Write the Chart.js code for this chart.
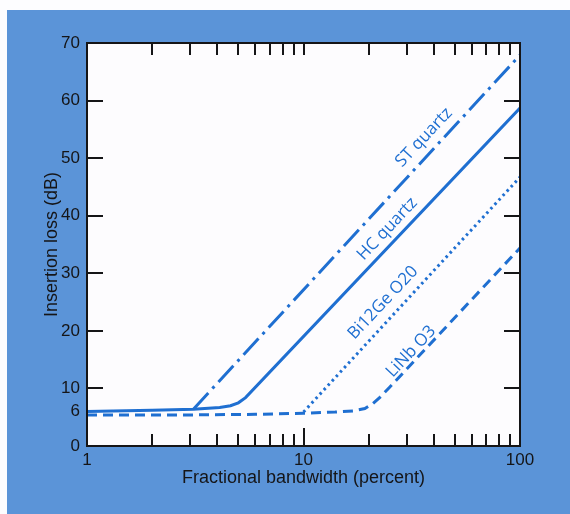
<!DOCTYPE html>
<html>
<head>
<meta charset="utf-8">
<script src="https://cdn.jsdelivr.net/npm/chart.js@4"></script>
<style>
  html, body { margin: 0; padding: 0; background: #fff; }
  canvas { display: block; }
</style>
</head>
<body>
<canvas id="lossChart" width="570" height="514"></canvas>
<script>
// curves: bandwidth (%) vs insertion loss (dB)
const stX = [3.1, 100];
const stY = [6.4, 67.9];
const hcX = [1, 2, 3.1, 4.1, 4.6, 5.0, 5.4, 100];
const hcY = [6.0, 6.2, 6.4, 6.7, 7.0, 7.5, 8.4, 58.7];
const bgoX = [10, 100];
const bgoY = [5.9, 46.7];
const lnX = [1, 3, 6, 10, 14, 17, 19.2, 20.8, 22.6, 25, 100];
const lnY = [5.4, 5.4, 5.5, 5.7, 5.9, 6.1, 6.5, 7.3, 8.5, 10.2, 34.4];

const xTickValues = [1, 10, 100];
const xMinorTicks = [2, 3, 4, 5, 6, 7, 8, 9, 20, 30, 40, 50, 60, 70, 80, 90];
const yTickValues = [0, 6, 10, 20, 30, 40, 50, 60, 70];
const yTickMarks = [10, 20, 30, 40, 50, 60];

const curveLabels = ['ST quartz', 'HC quartz', 'Bi12Ge O20', 'LiNb O3'];
const labelAtX = [36.0, 24.4, 23.3, 31.4];
const labelAtY = [53.6, 37.7, 24.9, 16.4];
const slopeDbPerDecade = 40;

const blue = '#1f6fd1';
const ink = '#151517';

const pts = (xs, ys) => xs.map((x, i) => ({ x: x, y: ys[i] }));

const framePlugin = {
    id: 'frame',
    beforeDraw(chart) {
        const c = chart.ctx, a = chart.chartArea;
        c.save();
        c.fillStyle = '#fdfdff';
        c.fillRect(0, 0, chart.width, chart.height);
        c.fillStyle = '#5b94d8';
        c.fillRect(7, 10, chart.width - 7, chart.height - 10);
        c.fillStyle = '#fdfcfe';
        c.fillRect(a.left, a.top, a.right - a.left, a.bottom - a.top);
        c.restore();
    },
    afterDatasetsDraw(chart) {
        const c = chart.ctx, a = chart.chartArea;
        const xs = chart.scales.x, ys = chart.scales.y;
        c.save();
        c.strokeStyle = ink;
        c.lineWidth = 2;
        c.beginPath();
        xMinorTicks.concat(xTickValues).forEach(v => {
            const px = Math.round(xs.getPixelForValue(v));
            const len = xTickValues.includes(v) ? 18 : 12;
            c.moveTo(px, a.bottom); c.lineTo(px, a.bottom - len);
            c.moveTo(px, a.top); c.lineTo(px, a.top + 12);
        });
        yTickMarks.forEach(v => {
            const py = Math.round(ys.getPixelForValue(v));
            c.moveTo(a.left, py); c.lineTo(a.left + 16, py);
            c.moveTo(a.right, py); c.lineTo(a.right - 16, py);
        });
        c.stroke();
        c.strokeRect(a.left, a.top, a.right - a.left, a.bottom - a.top);

        // labels along the curves
        const x0 = xs.getPixelForValue(10), y0 = ys.getPixelForValue(0);
        const x1 = xs.getPixelForValue(100), y1 = ys.getPixelForValue(slopeDbPerDecade);
        const ang = Math.atan2(y0 - y1, x1 - x0);
        c.fillStyle = blue;
        c.font = '17px "Open Sans"';
        c.textAlign = 'center';
        c.textBaseline = 'middle';
        curveLabels.forEach((t, i) => {
            c.save();
            c.translate(xs.getPixelForValue(labelAtX[i]), ys.getPixelForValue(labelAtY[i]));
            c.rotate(-ang);
            c.fillText(t, 0, 0);
            c.restore();
        });
        c.restore();
    }
};

const ctx = document.getElementById('lossChart').getContext('2d');
new Chart(ctx, {
    type: 'line',
    data: {
        datasets: [
            { label: 'ST quartz', data: pts(stX, stY), borderDash: [22, 6, 3, 6] },
            { label: 'HC quartz', data: pts(hcX, hcY) },
            { label: 'Bi12Ge O20', data: pts(bgoX, bgoY), borderDash: [2.5, 3.5] },
            { label: 'LiNb O3', data: pts(lnX, lnY), borderDash: [10, 6] }
        ].map(d => Object.assign({
            borderColor: blue,
            borderWidth: 3,
            pointRadius: 0,
            fill: false,
            tension: 0
        }, d))
    },
    options: {
        responsive: false,
        animation: false,
        layout: { padding: { left: 7, top: 43, right: 50, bottom: 0 } },
        plugins: {
            legend: { display: false },
            tooltip: { enabled: false }
        },
        scales: {
            x: {
                type: 'logarithmic',
                min: 1, max: 100,
                grid: { display: false, drawTicks: false },
                border: { display: false },
                afterBuildTicks: s => { s.ticks = xTickValues.map(v => ({ value: v })); },
                afterFit: s => { s.height = 68; },
                ticks: {
                    color: ink, padding: 4, maxRotation: 0, autoSkip: false,
                    font: { family: '"Liberation Sans", Arial', size: 17 },
                    callback: v => String(v)
                },
                title: {
                    display: true, text: 'Fractional bandwidth (percent)', color: ink,
                    font: { family: '"Liberation Sans", Arial', size: 18 },
                    padding: { top: 0, bottom: 25 }
                }
            },
            y: {
                min: 0, max: 70,
                grid: { display: false, drawTicks: false },
                border: { display: false },
                afterBuildTicks: s => { s.ticks = yTickValues.map(v => ({ value: v })); },
                afterFit: s => { s.width = 80; },
                ticks: {
                    color: ink, padding: 7, autoSkip: false,
                    font: { family: '"Liberation Sans", Arial', size: 17 }
                },
                title: {
                    display: true, text: 'Insertion loss (dB)', color: ink,
                    font: { family: '"Liberation Sans", Arial', size: 18 },
                    padding: { top: 34, bottom: 0 }
                }
            }
        }
    },
    plugins: [framePlugin]
});
</script>
</body>
</html>
